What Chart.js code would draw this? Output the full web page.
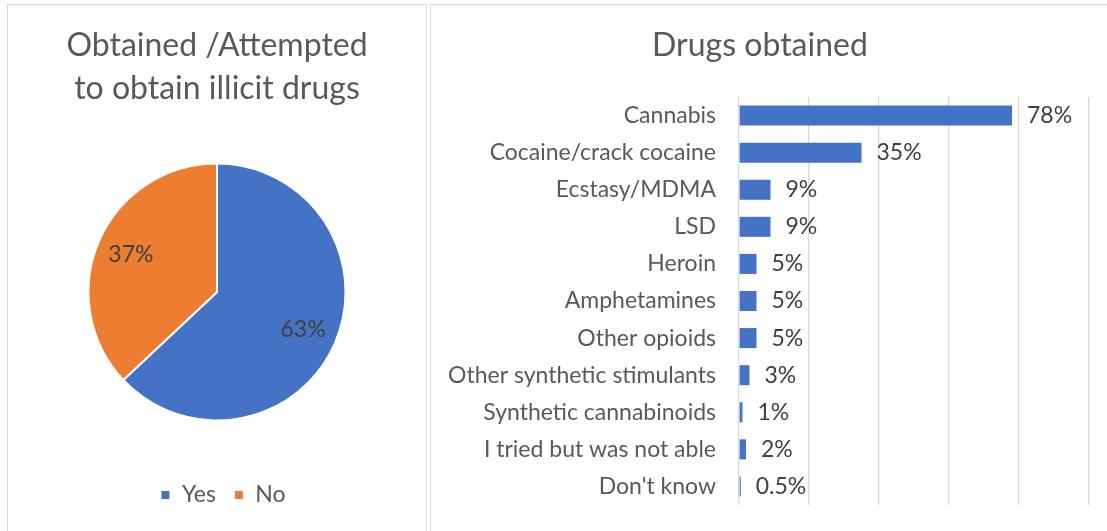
<!DOCTYPE html>
<html>
<head>
<meta charset="utf-8">
<script src="https://cdn.jsdelivr.net/npm/chart.js@4/dist/chart.umd.min.js"></script>
<style>
  html, body { margin: 0; padding: 0; background: #ffffff; overflow: hidden; width: 1107px; height: 531px; }
  .box { position: absolute; top: 4px; height: 540px; border: 1px solid #d9d9d9; box-sizing: border-box; background: #fff; }
  #boxPie { left: 7px; width: 420px; }
  #boxBar { left: 430px; width: 686px; }
  .box canvas { position: absolute; left: 0; top: 0; }
</style>
</head>
<body>
<div class="box" id="boxPie"><canvas id="pie" width="418" height="526"></canvas></div>
<div class="box" id="boxBar"><canvas id="bar" width="684" height="526"></canvas></div>
<script>
// Share of respondents who obtained or attempted to obtain illicit drugs
const pieLabels = ['Yes', 'No'];
const pieValues = [63, 37];
const pieColors = ['#4472C4', '#ED7D31'];

// Drugs obtained (% of those who obtained)
const drugLabels = [
  'Cannabis', 'Cocaine/crack cocaine', 'Ecstasy/MDMA', 'LSD', 'Heroin',
  'Amphetamines', 'Other opioids', 'Other synthetic stimulants',
  'Synthetic cannabinoids', 'I tried but was not able', "Don't know"
];
const drugValues = [78, 35, 9, 9, 5, 5, 5, 3, 1, 2, 0.5];
const drugTickValues = [0, 20, 40, 60, 80, 100];

const FONT = "Lato, 'Open Sans', sans-serif";
const TITLE_COLOR = '#595959';
const LABEL_COLOR = '#595959';
const VALUE_COLOR = '#404040';

Chart.defaults.font.family = FONT;
Chart.defaults.animation = false;

// Draws "NN%" value labels next to bars / inside slices
const valueLabels = {
  id: 'valueLabels',
  afterDatasetsDraw(chart, args, opts) {
    const ctx = chart.ctx;
    const meta = chart.getDatasetMeta(0);
    const data = chart.data.datasets[0].data;
    ctx.save();
    ctx.font = opts.size + 'px ' + FONT;
    ctx.fillStyle = VALUE_COLOR;
    ctx.textBaseline = 'middle';
    meta.data.forEach((el, i) => {
      const txt = data[i] + '%';
      if (chart.config.type === 'bar') {
        ctx.textAlign = 'left';
        ctx.fillText(txt, el.x + opts.offset, el.y);
      } else {
        const p = el.getProps(['startAngle', 'endAngle', 'outerRadius', 'x', 'y'], true);
        const mid = (p.startAngle + p.endAngle) / 2;
        const r = p.outerRadius * opts.radiusFactor;
        ctx.textAlign = 'center';
        ctx.fillText(txt, p.x + Math.cos(mid) * r, p.y + Math.sin(mid) * r);
      }
    });
    ctx.restore();
  }
};

// Nudges the bottom legend a little to the right of the pie's centre line
const legendShift = {
  id: 'legendShift',
  afterLayout(chart, args, opts) {
    if (chart.legend) { chart.legend.left += opts.dx; }
  }
};

new Chart(document.getElementById('pie'), {
  type: 'pie',
  data: {
    labels: pieLabels,
    datasets: [{
      data: pieValues,
      backgroundColor: pieColors,
      borderColor: '#ffffff',
      borderWidth: 2,
      radius: 128.5
    }]
  },
  options: {
    responsive: false,
    layout: { padding: { left: 0, right: 0, top: 0, bottom: 14.5 } },
    plugins: {
      title: {
        display: true,
        text: ['Obtained /Attempted', 'to obtain illicit drugs'],
        color: TITLE_COLOR,
        font: { size: 32, weight: 'normal', lineHeight: 1.344 },
        padding: { top: 19.5, bottom: 8 }
      },
      legend: {
        position: 'bottom',
        labels: {
          boxWidth: 10, boxHeight: 10, padding: 18,
          color: LABEL_COLOR,
          font: { size: 23 }
        }
      },
      tooltip: { enabled: false },
      valueLabels: { size: 23, radiusFactor: 0.73 },
      legendShift: { dx: 12 }
    }
  },
  plugins: [valueLabels, legendShift]
});

new Chart(document.getElementById('bar'), {
  type: 'bar',
  data: {
    labels: drugLabels,
    datasets: [{
      data: drugValues,
      backgroundColor: '#4472C4',
      borderWidth: 0,
      barPercentage: 0.54,
      categoryPercentage: 1
    }]
  },
  options: {
    responsive: false,
    indexAxis: 'y',
    layout: { padding: { left: 0, right: 26, top: 0, bottom: 26 } },
    scales: {
      x: {
        min: drugTickValues[0],
        max: drugTickValues[drugTickValues.length - 1],
        afterBuildTicks(scale) { scale.ticks = drugTickValues.map(v => ({ value: v })); },
        ticks: { display: false },
        grid: { color: '#d9d9d9', lineWidth: 1.3, drawTicks: false, tickLength: 0 },
        border: { display: false },
        afterFit(scale) { scale.height = 0; }
      },
      y: {
        grid: { display: false, drawTicks: false, tickLength: 0 },
        border: { display: false },
        ticks: { color: LABEL_COLOR, font: { size: 23 }, padding: 23, autoSkip: false },
        afterFit(scale) {
          scale.width = 308;
          scale.paddingTop = 0;
          scale.paddingBottom = 0;
        }
      }
    },
    plugins: {
      title: {
        display: true,
        text: 'Drugs obtained',
        color: TITLE_COLOR,
        font: { size: 32, weight: 'normal', lineHeight: 1.344 },
        padding: { top: 19.5, bottom: 29.5 }
      },
      legend: { display: false },
      tooltip: { enabled: false },
      valueLabels: { size: 23, offset: 15 }
    }
  },
  plugins: [valueLabels]
});
</script>
</body>
</html>
